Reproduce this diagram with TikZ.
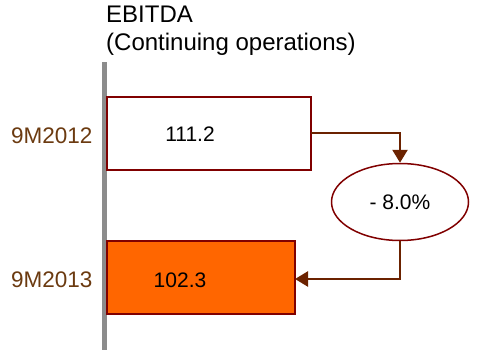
\documentclass[tikz,border=0pt]{standalone}
\usepackage{fontspec}
\setmainfont{Liberation Sans}
\usetikzlibrary{shapes.geometric,arrows.meta}
\definecolor{bord}{HTML}{800000}
\definecolor{arr}{HTML}{6B2200}
\definecolor{lab}{HTML}{6B3A10}
\definecolor{orng}{HTML}{FF6600}
\begin{document}
\begin{tikzpicture}[x=1pt,y=-1pt,
  bar/.style={draw=bord,line width=1.5pt},
  conn/.style={draw=arr,line width=2.5pt,-{Triangle[length=13pt,width=15pt]}},
  lbl/.style={text=lab,font=\fontsize{22.5}{26}\selectfont},
  val/.style={font=\fontsize{21}{24}\selectfont}]
\useasboundingbox (0,0) rectangle (486,350);
\fill[gray!90] (102,62) rectangle (107,350);
\node[anchor=north west,align=left,inner sep=0pt,font=\fontsize{24}{28}\selectfont] (title) at (106,6) {EBITDA\\(Continuing operations)};
\path[bar,fill=white] (107,97) rectangle (311,170);
\node[val] (v1) at (190,134) {111.2};
\path[bar,fill=orng] (107,241) rectangle (295,314);
\node[val] (v2) at (180,280) {102.3};
\coordinate (b1) at (311,133);
\coordinate (b2) at (295,279);
\node[ellipse,draw=bord,line width=1.5pt,minimum width=137pt,minimum height=77pt,inner sep=0pt,font=\fontsize{21}{24}\selectfont] (e) at (400,202) {- 8.0\%};
\draw[conn] (b1) -| (e.north);
\draw[conn] (e.south) |- (b2);
\node[lbl,anchor=east] (y1) at (96,136) {9M2012};
\node[lbl,anchor=east] (y2) at (96,280) {9M2013};
\end{tikzpicture}
\end{document}
